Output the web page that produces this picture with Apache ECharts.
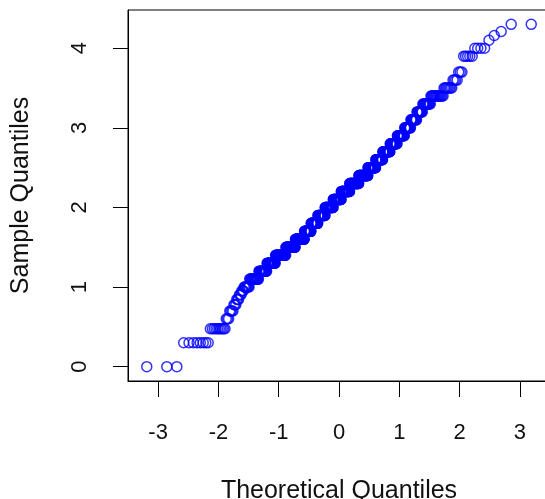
<!DOCTYPE html>
<html>
<head>
<meta charset="utf-8">
<script src="https://cdn.jsdelivr.net/npm/echarts@6/dist/echarts.min.js"></script>
<style>
    html, body {margin: 0; padding: 0; background: #fff;}
    #divQQ {width: 545px; height: 499px;}
</style>
</head>
<body>
<div id="divQQ"></div>
<script>
// sorted sample, written as runs: each level and how many points sit on it
let sampleLevels = [0, 0.301, 0.477, 0.602, 0.699, 0.778, 0.845, 0.903, 0.954, 1.0,
    1.1, 1.2, 1.3, 1.4, 1.5, 1.6, 1.7, 1.8, 1.9, 2.0,
    2.1, 2.2, 2.3, 2.4, 2.5, 2.6, 2.7, 2.8, 2.9, 3.0,
    3.1, 3.2, 3.3, 3.4, 3.5, 3.6, 3.7, 3.9, 4.0, 4.1,
    4.16, 4.21, 4.3];
let levelCounts = [3, 8, 10, 3, 4, 3, 3, 3, 3, 8,
    16, 17, 21, 30, 32, 34, 27, 29, 32, 37,
    37, 39, 41, 39, 31, 26, 25, 22, 20, 15,
    13, 11, 13, 16, 8, 4, 3, 5, 4, 1,
    1, 1, 2];

let xTicks = [-3, -2, -1, 0, 1, 2, 3];
let yTicks = [0, 1, 2, 3, 4];

// inverse normal cdf (Acklam)
function qnorm(p) {
    let a = [-3.969683028665376e+01, 2.209460984245205e+02, -2.759285104469687e+02,
        1.383577518672690e+02, -3.066479806614716e+01, 2.506628277459239e+00];
    let b = [-5.447609879822406e+01, 1.615858368580409e+02, -1.556989798598866e+02,
        6.680131188771972e+01, -1.328068155288572e+01];
    let c = [-7.784894002430293e-03, -3.223964580411365e-01, -2.400758277161838e+00,
        -2.549671323135085e+00, 4.374664141464968e+00, 2.938163982698783e+00];
    let d = [7.784695709041462e-03, 3.224671290700398e-01, 2.445134137142996e+00,
        3.754408661907416e+00];
    let plow = 0.02425;
    let q, r;
    if (p < plow) {
        q = Math.sqrt(-2 * Math.log(p));
        return (((((c[0] * q + c[1]) * q + c[2]) * q + c[3]) * q + c[4]) * q + c[5]) /
            ((((d[0] * q + d[1]) * q + d[2]) * q + d[3]) * q + 1);
    }
    if (p <= 1 - plow) {
        q = p - 0.5;
        r = q * q;
        return (((((a[0] * r + a[1]) * r + a[2]) * r + a[3]) * r + a[4]) * r + a[5]) * q /
            (((((b[0] * r + b[1]) * r + b[2]) * r + b[3]) * r + b[4]) * r + 1);
    }
    q = Math.sqrt(-2 * Math.log(1 - p));
    return -(((((c[0] * q + c[1]) * q + c[2]) * q + c[3]) * q + c[4]) * q + c[5]) /
        ((((d[0] * q + d[1]) * q + d[2]) * q + d[3]) * q + 1);
}

// expand the runs, then pair each value with its theoretical quantile (ppoints, a = 0.5)
let sample = [];
for (let i = 0; i < sampleLevels.length; i++) {
    for (let k = 0; k < levelCounts[i]; k++) {
        sample.push(sampleLevels[i]);
    }
}
let n = sample.length;
let points = [];
for (let i = 0; i < n; i++) {
    points.push([qnorm((i + 0.5) / n), sample[i]]);
}

let font = 'Liberation Sans, Arial, sans-serif';
let tickText = {color: '#111', fontFamily: font, fontSize: 22};
let nameText = {color: '#111', fontFamily: font, fontSize: 25};

let myChart = echarts.init(document.getElementById('divQQ'), null, {renderer: 'canvas'});
let option = {
    animation: false,
    backgroundColor: '#fff',
    grid: {
        left: 128,
        top: 10,
        width: 422,
        height: 371,
        outerBoundsMode: 'none',
        containLabel: false,
        show: true,
        borderColor: '#000',
        borderWidth: 1,
        backgroundColor: 'transparent'
    },
    xAxis: {
        type: 'value',
        min: -3.5,
        max: 3.5,
        name: 'Theoretical Quantiles',
        nameLocation: 'middle',
        nameGap: 98,
        nameTextStyle: nameText,
        axisLine: {show: true, onZero: false, lineStyle: {color: '#000', width: 1}},
        axisTick: {show: true, length: 16, customValues: xTicks, lineStyle: {color: '#000', width: 1}},
        axisLabel: Object.assign({customValues: xTicks, margin: 41}, tickText),
        splitLine: {show: false}
    },
    yAxis: {
        type: 'value',
        min: -0.18,
        max: 4.48,
        name: 'Sample Quantiles',
        nameLocation: 'middle',
        nameGap: 94,
        nameTextStyle: nameText,
        axisLine: {show: true, onZero: false, lineStyle: {color: '#000', width: 1}},
        axisTick: {show: true, length: 15, customValues: yTicks, lineStyle: {color: '#000', width: 1}},
        axisLabel: Object.assign({customValues: yTicks, margin: 37, rotate: 90}, tickText),
        splitLine: {show: false}
    },
    series: [
        {
            type: 'scatter',
            data: points,
            symbol: 'circle',
            symbolSize: 10,
            itemStyle: {color: 'transparent', borderColor: '#0000ff', borderWidth: 1.5},
            emphasis: {disabled: true}
        }
    ]
};
myChart.setOption(option);
</script>
</body>
</html>
